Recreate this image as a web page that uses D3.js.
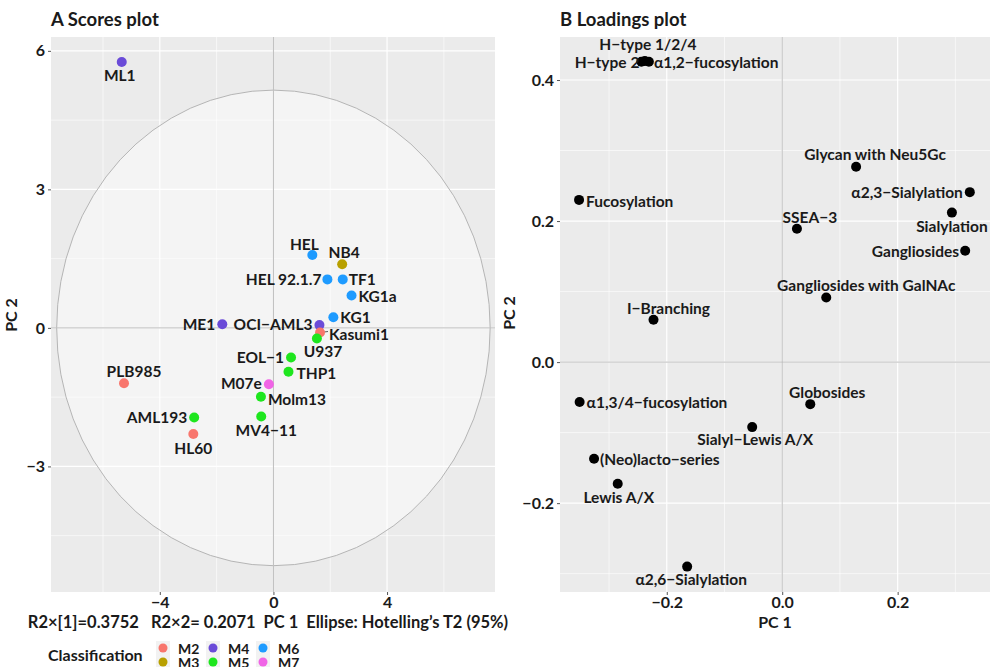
<!DOCTYPE html>
<html><head><meta charset="utf-8">
<script src="https://cdn.jsdelivr.net/npm/d3@7"></script>
<style>
body{margin:0;background:#fff;}
svg text{font-family:Lato,"Open Sans",sans-serif;font-weight:bold;fill:#1a1a1a;}
</style></head>
<body><svg id="c" width="993" height="667"></svg>
<script>
// ---- Scores data ----
const cellLines = ["ML1","HEL","NB4","HEL 92.1.7","TF1","KG1a","KG1","ME1","OCI\u2212AML3","Kasumi1","U937","EOL\u22121","THP1","M07e","Molm13","PLB985","AML193","MV4\u221211","HL60"];
const pc1Scores = [-5.34,1.37,2.42,1.90,2.44,2.75,2.11,-1.80,1.62,1.64,1.53,0.62,0.53,-0.16,-0.44,-5.26,-2.79,-0.43,-2.82];
const pc2Scores = [5.76,1.58,1.38,1.05,1.05,0.70,0.23,0.08,0.06,-0.10,-0.23,-0.64,-0.95,-1.22,-1.49,-1.20,-1.94,-1.92,-2.30];
const classes = ["M4","M6","M3","M6","M6","M6","M6","M4","M4","M2","M5","M5","M5","M7","M5","M2","M5","M5","M2"];
const classLevels = ["M2","M3","M4","M5","M6","M7"];
const classColors = ["#F8766D","#B8A000","#6A4BD8","#1EE61E","#1E9BFF","#F064E6"];
const scoreXTicks = [-4,0,4];
const scoreYTicks = [-3,0,3,6];
const ellipseRadii = [7.63,5.15];

// ---- Loadings data ----
const glycoFeatures = ["H\u2212type 1/2/4","H\u2212type 2","\u03b11,2\u2212fucosylation","Glycan with Neu5Gc","\u03b12,3\u2212Sialylation","Sialylation","Gangliosides","SSEA\u22123","Gangliosides with GalNAc","Fucosylation","I\u2212Branching","\u03b11,3/4\u2212fucosylation","Globosides","Sialyl\u2212Lewis A/X","(Neo)lacto\u2212series","Lewis A/X","\u03b12,6\u2212Sialylation"];
const pc1Loadings = [-0.238,-0.244,-0.231,0.128,0.325,0.294,0.317,0.0255,0.0763,-0.352,-0.223,-0.351,0.0486,-0.052,-0.326,-0.285,-0.1647];
const pc2Loadings = [0.427,0.426,0.426,0.277,0.241,0.212,0.158,0.189,0.0917,0.230,0.060,-0.0567,-0.0596,-0.0922,-0.137,-0.1726,-0.290];
const loadXTicks = [-0.2,0,0.2];
const loadYTicks = [-0.2,0,0.2,0.4];

// ---- label placement (pixels relative to point) ----
const scoreLabelPos = {
 "ML1":["middle",-2,13],"HEL":["middle",-8,-11],"NB4":["middle",2,-12],"HEL 92.1.7":["end",-6,0],
 "TF1":["start",6,0],"KG1a":["start",7,0],"KG1":["start",7,0],"ME1":["end",-7,0],
 "OCI\u2212AML3":["end",-7,-1],"Kasumi1":["start",9,1],"U937":["middle",6,12],"EOL\u22121":["end",-7,0],
 "THP1":["start",8,1],"M07e":["end",-7,-1],"Molm13":["start",7,2],"PLB985":["middle",10,-12],
 "AML193":["end",-7,0],"MV4\u221211":["middle",5,13],"HL60":["middle",0,14]};
const loadLabelPos = {
 "H\u2212type 1/2/4":["middle",3,-17],"H\u2212type 2":["end",-2,0],"\u03b11,2\u2212fucosylation":["start",5,0],
 "Glycan with Neu5Gc":["middle",19,-13],"\u03b12,3\u2212Sialylation":["end",-7,0],"Sialylation":["middle",0,13],
 "Gangliosides":["end",-6,0],"SSEA\u22123":["middle",13,-12],"Gangliosides with GalNAc":["middle",40,-12],
 "Fucosylation":["start",7,1],"I\u2212Branching":["middle",15,-12],"\u03b11,3/4\u2212fucosylation":["start",7,0],
 "Globosides":["middle",17,-12],"Sialyl\u2212Lewis A/X":["middle",3,12],"(Neo)lacto\u2212series":["start",6,0],
 "Lewis A/X":["middle",1,13],"\u03b12,6\u2212Sialylation":["middle",4,12]};

const svg = d3.select("#c");
const minus = s => s.replace("-", "\u2212");

function panel(opts){
  const g = svg.append("g");
  const {x, y, xTicks, yTicks, xMinor, yMinor, fmtX, fmtY} = opts;
  const [x0,x1] = x.range(), [y1,y0] = y.range();
  g.append("rect").attr("x",x0).attr("y",y0).attr("width",x1-x0).attr("height",y1-y0).attr("fill","#EBEBEB");
  xMinor.forEach(v=>g.append("line").attr("x1",x(v)).attr("x2",x(v)).attr("y1",y0).attr("y2",y1).attr("stroke","#fff").attr("stroke-width",0.6));
  yMinor.forEach(v=>g.append("line").attr("y1",y(v)).attr("y2",y(v)).attr("x1",x0).attr("x2",x1).attr("stroke","#fff").attr("stroke-width",0.6));
  xTicks.forEach(v=>g.append("line").attr("x1",x(v)).attr("x2",x(v)).attr("y1",y0).attr("y2",y1).attr("stroke","#fff").attr("stroke-width",1.2));
  yTicks.forEach(v=>g.append("line").attr("y1",y(v)).attr("y2",y(v)).attr("x1",x0).attr("x2",x1).attr("stroke","#fff").attr("stroke-width",1.2));
  const ax = g.append("g").attr("transform",`translate(0,${y1})`).call(d3.axisBottom(x).tickValues(xTicks).tickSize(3).tickFormat(fmtX));
  const ay = g.append("g").attr("transform",`translate(${x0},0)`).call(d3.axisLeft(y).tickValues(yTicks).tickSize(3).tickFormat(fmtY));
  [ax,ay].forEach(a=>{a.select(".domain").remove();a.selectAll(".tick line").attr("stroke","#555");
    a.selectAll("text").style("font-size","16px").style("font-family","Lato,sans-serif").style("font-weight","bold").attr("fill","#1a1a1a");});
  ax.selectAll("text").attr("y",4).attr("dy","0.75em");
  return g;
}

// ---- Panel A ----
const xA = d3.scaleLinear().domain([-7.83,7.8]).range([51,495]);
const yA = d3.scaleLinear().domain([-5.72,6.30]).range([592,37]);
const gA = panel({x:xA,y:yA,xTicks:scoreXTicks,yTicks:scoreYTicks,xMinor:[-6,-2,2,6],yMinor:[-4.5,-1.5,1.5,4.5],
  fmtX:d=>minus(String(d)),fmtY:d=>minus(String(d))});
gA.append("ellipse").attr("cx",xA(0)).attr("cy",yA(0)).attr("rx",xA(ellipseRadii[0])-xA(0)).attr("ry",yA(0)-yA(ellipseRadii[1]))
  .attr("fill","#fff").attr("fill-opacity",0.45).attr("stroke","#B5B5B5").attr("stroke-width",1);
gA.append("line").attr("x1",xA(0)).attr("x2",xA(0)).attr("y1",37).attr("y2",592).attr("stroke","#BEBEBE");
gA.append("line").attr("y1",yA(0)).attr("y2",yA(0)).attr("x1",51).attr("x2",495).attr("stroke","#BEBEBE");
const color = d3.scaleOrdinal().domain(classLevels).range(classColors);
const scoreData = cellLines.map((n,i)=>({n,x:pc1Scores[i],y:pc2Scores[i],c:classes[i]}));
const kas = scoreData.find(d=>d.n==="Kasumi1");
gA.append("line").attr("x1",xA(kas.x)).attr("y1",yA(kas.y)).attr("x2",xA(kas.x)+8).attr("y2",yA(kas.y)-1).attr("stroke","#333").attr("stroke-width",0.8);
gA.selectAll("circle.pt").data(scoreData).join("circle").attr("class","pt")
  .attr("cx",d=>xA(d.x)).attr("cy",d=>yA(d.y)).attr("r",5).attr("fill",d=>color(d.c));
gA.selectAll("text.lb").data(scoreData).join("text").attr("class","lb")
  .attr("x",d=>xA(d.x)+scoreLabelPos[d.n][1]).attr("y",d=>yA(d.y)+scoreLabelPos[d.n][2])
  .attr("text-anchor",d=>scoreLabelPos[d.n][0]).attr("dominant-baseline","central")
  .style("font-size","15.5px").text(d=>d.n);
svg.append("text").attr("x",51).attr("y",26).style("font-size","18.5px").text("A Scores plot");
svg.append("text").attr("transform","translate(17,315) rotate(-90)").attr("text-anchor","middle").style("font-size","16px").text("PC 2");
svg.append("text").attr("x",268).attr("y",628).attr("text-anchor","middle").style("font-size","16.5px")
  .attr("xml:space","preserve").text("R2\u00d7[1]=0.3752   R2\u00d72= 0.2071  PC 1  Ellipse: Hotelling\u2019s T2 (95%)");

// legend
const lg = svg.append("g");
lg.append("text").attr("x",48).attr("y",661).style("font-size","16px").text("Classification");
classLevels.forEach((c,i)=>{
  const col = Math.floor(i/2), row = i%2;
  const kx = 163 + col*50, ky = 648 + row*14;
  lg.append("rect").attr("x",kx-7).attr("y",ky-7).attr("width",14).attr("height",14).attr("fill","#F2F2F2");
  lg.append("circle").attr("cx",kx).attr("cy",ky).attr("r",4.5).attr("fill",color(c));
  lg.append("text").attr("x",kx+15).attr("y",ky).attr("dominant-baseline","central").style("font-size","14px").text(c);
});

// ---- Panel B ----
const xB = d3.scaleLinear().domain([-0.385,0.360]).range([560,990]);
const yB = d3.scaleLinear().domain([-0.326,0.461]).range([592,37]);
const fmtB = d=>minus(d3.format(".1f")(d));
const gB = panel({x:xB,y:yB,xTicks:loadXTicks,yTicks:loadYTicks,xMinor:[-0.3,-0.1,0.1,0.3],yMinor:[-0.3,-0.1,0.1,0.3],fmtX:fmtB,fmtY:fmtB});
gB.append("line").attr("x1",xB(0)).attr("x2",xB(0)).attr("y1",37).attr("y2",592).attr("stroke","#BEBEBE");
gB.append("line").attr("y1",yB(0)).attr("y2",yB(0)).attr("x1",560).attr("x2",990).attr("stroke","#BEBEBE");
const loadData = glycoFeatures.map((n,i)=>({n,x:pc1Loadings[i],y:pc2Loadings[i]}));
gB.selectAll("circle.pt").data(loadData).join("circle").attr("class","pt")
  .attr("cx",d=>xB(d.x)).attr("cy",d=>yB(d.y)).attr("r",5).attr("fill","#000");
gB.selectAll("text.lb").data(loadData).join("text").attr("class","lb")
  .attr("x",d=>xB(d.x)+loadLabelPos[d.n][1]).attr("y",d=>yB(d.y)+loadLabelPos[d.n][2])
  .attr("text-anchor",d=>loadLabelPos[d.n][0]).attr("dominant-baseline","central")
  .style("font-size","15.5px").text(d=>d.n);
svg.append("text").attr("x",560).attr("y",26).style("font-size","18.5px").text("B Loadings plot");
svg.append("text").attr("transform","translate(515,313) rotate(-90)").attr("text-anchor","middle").style("font-size","16px").text("PC 2");
svg.append("text").attr("x",775).attr("y",628).attr("text-anchor","middle").style("font-size","16px").text("PC 1");
</script></body></html>
